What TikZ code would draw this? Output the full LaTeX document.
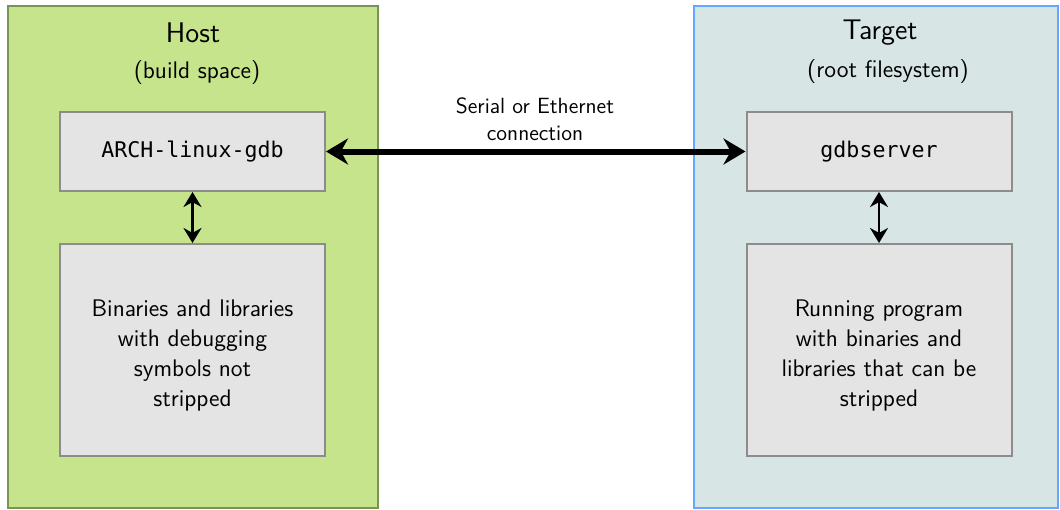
\documentclass[tikz,border=0pt]{standalone}
\usepackage{fontspec}
\newfontfamily\codefont{DejaVu Sans Mono}
\usetikzlibrary{arrows.meta}
\definecolor{hostfill}{RGB}{198,228,139}
\definecolor{hostdraw}{RGB}{118,148,84}
\definecolor{targetfill}{RGB}{215,229,229}
\definecolor{targetdraw}{RGB}{98,168,255}
\definecolor{boxfill}{RGB}{228,228,228}
\definecolor{boxdraw}{RGB}{140,140,140}
\newcommand{\boxlines}[1]{\raisebox{-2.5pt}[\height][\depth]{\begin{tabular}{@{}c@{}}#1\end{tabular}}}
\begin{document}
\begin{tikzpicture}[x=0.5pt,y=-0.5pt,
  area/.style={rectangle, minimum width=#1, minimum height=251pt, line width=1pt},
  inner/.style={rectangle, draw=boxdraw, fill=boxfill, line width=1pt, minimum width=132.5pt, align=center, font=\sffamily\fontsize{12}{15}\selectfont},
  monobox/.style={inner, minimum height=39.5pt, font=\codefont\fontsize{10.8}{14}\selectfont},
  textbox/.style={inner, minimum height=106pt},
  title/.style={font=\sffamily\fontsize{14.2}{17}\selectfont, inner sep=0pt},
  subtitle/.style={font=\sffamily\fontsize{12}{15}\selectfont, inner sep=0pt},
  bigarrow/.style={line width=3pt, {Stealth[length=11pt,width=13pt]}-{Stealth[length=11pt,width=13pt]}},
  smallarrow/.style={line width=1.2pt, {Stealth[length=7.5pt,width=9pt]}-{Stealth[length=7.5pt,width=9pt]}}
]
\useasboundingbox (0,0) rectangle (1060,509);
\node[area=185pt, draw=hostdraw, fill=hostfill] (host) at (193,257) {};
\node[area=182pt, draw=targetdraw, fill=targetfill] (target) at (876,257) {};
\node[title] (hosttitle) at (193,33) {Host};
\node[subtitle] (hostsub) at (197,73) {(build space)};
\node[title] (targettitle) at (880,33) {Target};
\node[subtitle] (targetsub) at (888,72) {(root filesystem)};
\node[monobox] (gdb) at (192.5,151.5) {ARCH-linux-gdb};
\node[textbox] (bins) at (192.5,350) {\boxlines{Binaries and libraries\\with debugging\\symbols not\\stripped}};
\node[monobox] (server) at (879,151.5) {gdbserver};
\node[textbox] (prog) at (879,350) {\boxlines{Running program\\with binaries and\\libraries that can be\\stripped}};
\node[font=\sffamily\fontsize{11}{13.5}\selectfont, align=center] (conn) at (535,119) {Serial or Ethernet\\connection};
\draw[bigarrow] (gdb) -- (server);
\draw[smallarrow] (gdb) -- (bins);
\draw[smallarrow] (server) -- (prog);
\end{tikzpicture}
\end{document}
